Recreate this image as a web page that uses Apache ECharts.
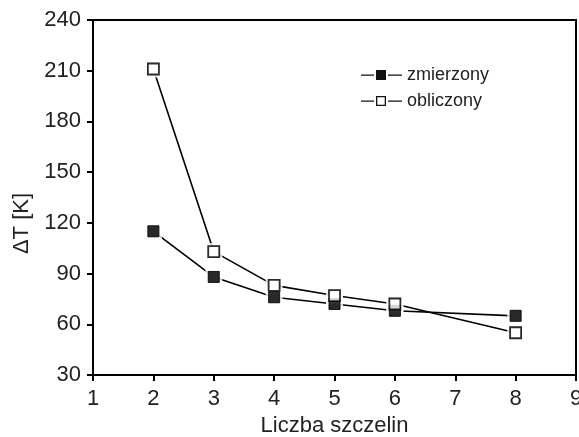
<!DOCTYPE html>
<html>
<head>
<meta charset="utf-8">
<script src="https://cdn.jsdelivr.net/npm/echarts@6/dist/echarts.min.js"></script>
<style>
  html, body { margin: 0; padding: 0; background: #fff; }
  #chart { width: 579px; height: 437px; }
</style>
</head>
<body>
<div id="chart"></div>
<script>
// liczba szczelin (os X)
var slots = [2, 3, 4, 5, 6, 8];
// wartosci dT [K]
var measured = [115, 88, 76, 72, 68, 65];
var computed = [211, 103, 83, 77, 72, 55];
var yTicks = [30, 60, 90, 120, 150, 180, 210, 240];
var xTicks = [1, 2, 3, 4, 5, 6, 7, 8, 9];

function pairs(xs, ys) {
    var out = [];
    for (var i = 0; i < xs.length; i++) {
        out.push([xs[i], ys[i]]);
    }
    return out;
}

var chart = echarts.init(document.getElementById('chart'));
var font = 'Liberation Sans, Arial, sans-serif';
var ink = '#000';

// ikony legendy: kreska - kwadrat - kreska (z przerwami)
var iconFilled = 'path://M0,5 L13,5 L13,6.2 L0,6.2 Z M15,0.5 L25,0.5 L25,10.5 L15,10.5 Z M27,5 L41,5 L41,6.2 L27,6.2 Z';
var iconHollow = 'path://M0,5 L13,5 L13,6.2 L0,6.2 Z M15,0.5 L25,0.5 L25,10.5 L15,10.5 Z M16.3,1.8 L16.3,9.2 L23.7,9.2 L23.7,1.8 Z M27,5 L41,5 L41,6.2 L27,6.2 Z';

// bialy "halo" wokol punktow - linie nie dochodza do znacznikow
function halo(data) {
    return {
        type: 'scatter', data: data, symbol: 'rect', symbolSize: 17,
        itemStyle: {color: '#fff'}, z: 3, silent: true
    };
}

var measuredData = pairs(slots, measured);
var computedData = pairs(slots, computed);

chart.setOption({
    animation: false,
    grid: {
        left: 93, right: 3, top: 20, bottom: 62,
        outerBoundsMode: 'none', containLabel: false,
        show: true, borderColor: ink, borderWidth: 2
    },
    legend: {
        data: [
            {name: 'zmierzony', icon: iconFilled, itemStyle: {color: '#111', borderWidth: 0}},
            {name: 'obliczony', icon: iconHollow, itemStyle: {color: '#111', borderWidth: 0}}
        ],
        left: 361, top: 66, padding: 0,
        orient: 'vertical',
        itemWidth: 41, itemHeight: 11, itemGap: 8,
        textStyle: {fontFamily: font, fontSize: 18, color: '#222'}
    },
    xAxis: {
        type: 'value', min: xTicks[0], max: xTicks[xTicks.length - 1], interval: 1,
        name: 'Liczba szczelin', nameLocation: 'middle', nameGap: 37,
        nameTextStyle: {fontFamily: font, fontSize: 22, color: '#222'},
        axisLine: {lineStyle: {color: ink, width: 2}},
        axisTick: {inside: false, length: 6, lineStyle: {color: ink, width: 2}},
        axisLabel: {fontFamily: font, fontSize: 22, color: '#222', margin: 13},
        splitLine: {show: false}
    },
    yAxis: {
        type: 'value', min: yTicks[0], max: yTicks[yTicks.length - 1], interval: 30,
        name: 'ΔT [K]', nameLocation: 'middle', nameGap: 57,
        nameTextStyle: {fontFamily: font, fontSize: 22, color: '#222', padding: [0, 52, 0, 0]},
        axisLine: {lineStyle: {color: ink, width: 2}},
        axisTick: {inside: false, length: 6, lineStyle: {color: ink, width: 2}},
        axisLabel: {fontFamily: font, fontSize: 22, color: '#222', margin: 12},
        splitLine: {show: false}
    },
    series: [
        {
            name: 'zmierzony', type: 'line', data: measuredData,
            symbol: 'rect', symbolSize: 11, z: 2,
            lineStyle: {color: ink, width: 1.6},
            itemStyle: {color: ink, borderColor: ink, borderWidth: 1}
        },
        {
            name: 'obliczony', type: 'line', data: computedData,
            symbol: 'rect', symbolSize: 11, z: 2,
            lineStyle: {color: ink, width: 1.6},
            itemStyle: {color: '#fff', borderColor: ink, borderWidth: 1.8}
        },
        halo(measuredData),
        halo(computedData),
        {
            type: 'scatter', data: measuredData, symbol: 'rect', symbolSize: 11, z: 4,
            itemStyle: {color: ink, borderColor: ink, borderWidth: 1}
        },
        {
            type: 'scatter', data: computedData, symbol: 'rect', symbolSize: 11, z: 4,
            itemStyle: {color: '#fff', borderColor: ink, borderWidth: 1.8}
        }
    ]
});
</script>
</body>
</html>
